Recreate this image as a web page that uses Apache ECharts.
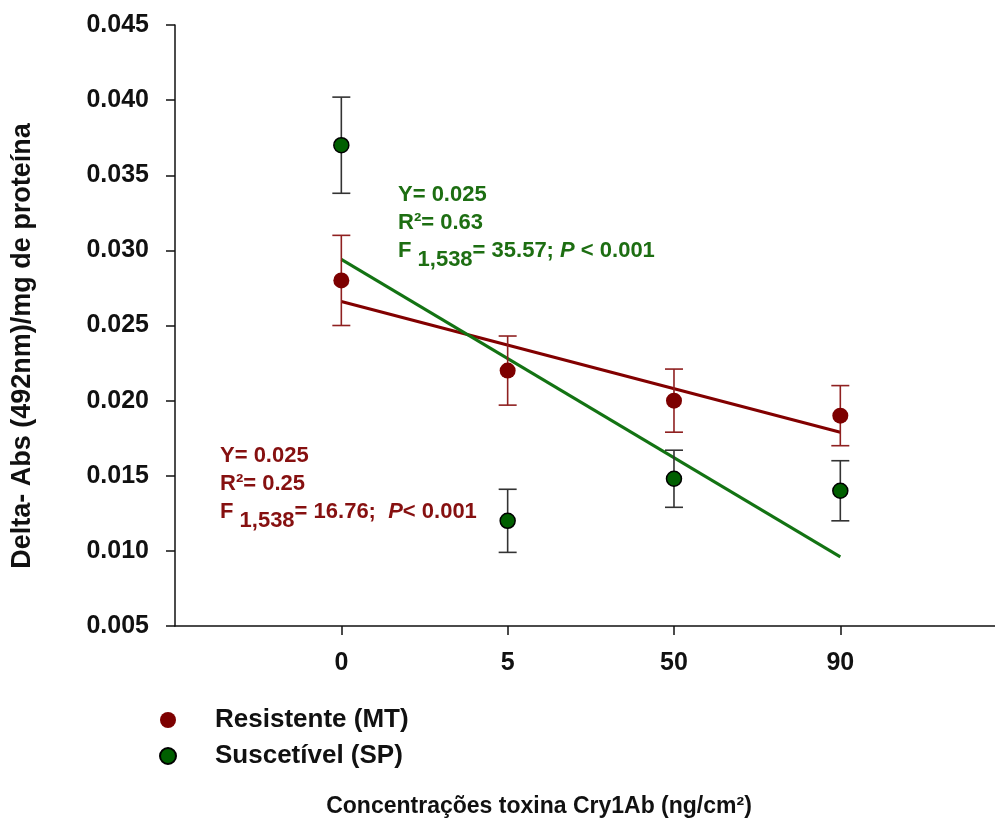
<!DOCTYPE html>
<html>
<head>
<meta charset="utf-8">
<script src="https://cdn.jsdelivr.net/npm/echarts@6/dist/echarts.min.js"></script>
<style>
  html, body { margin: 0; padding: 0; background: #fff; }
  #chart { width: 995px; height: 822px; }
</style>
</head>
<body>
<div id="chart"></div>
<script>
// categorias do eixo x (posições 0..3)
const categories = ['0', '5', '50', '90'];
const resMean = [0.028, 0.022, 0.020, 0.019];
const resErr = [0.0030, 0.0023, 0.0021, 0.0020];
const susMean = [0.037, 0.012, 0.0148, 0.014];
const susErr = [0.0032, 0.0021, 0.0019, 0.0020];
// retas de regressão: valores no início (0) e no fim (90)
const resFit = [0.0266, 0.0179];
const susFit = [0.0294, 0.0096];

const RED = '#7d0000';
const GREEN = '#005f00';
const FONT = 'Liberation Sans, Arial, sans-serif';

const chart = echarts.init(document.getElementById('chart'));

/**
 * barras de erro (custom)
 */
function errorBars(means, errs, color) {
    return {
        type: 'custom',
        silent: true,
        z: 2,
        data: means.map((m, i) => [i, m - errs[i], m + errs[i]]),
        renderItem: (params, api) => {
            const lo = api.coord([api.value(0), api.value(1)]);
            const hi = api.coord([api.value(0), api.value(2)]);
            const w = 9;
            const style = { stroke: color, lineWidth: 1.6 };
            return {
                type: 'group',
                children: [
                    { type: 'line', shape: { x1: lo[0], y1: lo[1], x2: hi[0], y2: hi[1] }, style },
                    { type: 'line', shape: { x1: lo[0] - w, y1: lo[1], x2: lo[0] + w, y2: lo[1] }, style },
                    { type: 'line', shape: { x1: hi[0] - w, y1: hi[1], x2: hi[0] + w, y2: hi[1] }, style }
                ]
            };
        }
    };
}

const txt = { fontFamily: FONT, fontWeight: 'bold', fontSize: 22 };

function statsBlock(color, r2, f, pSep) {
    const base = Object.assign({}, txt, { lineHeight: 28, verticalAlign: 'top', fill: color });
    return {
        fill: color,
        text: '{n|Y= 0.025}\n{n|R²= ' + r2 + '}\n{n|F }{s|1,538}{n|= ' + f + ';' + pSep + '}{i|P}{n|' + (pSep.length > 1 ? '' : ' ') + '< 0.001}',
        rich: {
            n: Object.assign({}, base),
            s: Object.assign({}, base, { padding: [9, 0, 0, 0] }),
            i: Object.assign({}, base, { fontStyle: 'italic' })
        }
    };
}

const option = {
    backgroundColor: '#fff',
    animation: false,
    grid: { left: 175, right: 0, top: 25, bottom: 196 },
    xAxis: {
        type: 'value',
        min: -1,
        max: 3.93,
        interval: 1,
        splitLine: { show: false },
        axisLine: { onZero: false, lineStyle: { color: '#111', width: 1.5 } },
        axisTick: { customValues: [0, 1, 2, 3], length: 9, lineStyle: { color: '#111', width: 1.5 } },
        axisLabel: {
            customValues: [0, 1, 2, 3],
            formatter: v => categories[Math.round(v)] || '',
            margin: 25,
            color: '#111',
            fontFamily: FONT,
            fontWeight: 'bold',
            fontSize: 25
        }
    },
    yAxis: {
        type: 'value',
        min: 0.005,
        max: 0.045,
        interval: 0.005,
        splitLine: { show: false },
        axisLine: { show: true, onZero: false, lineStyle: { color: '#111', width: 1.5 } },
        axisTick: { show: true, length: 9, lineStyle: { color: '#111', width: 1.5 } },
        axisLabel: {
            formatter: v => v.toFixed(3),
            margin: 26,
            color: '#111',
            fontFamily: FONT,
            fontWeight: 'bold',
            fontSize: 25
        }
    },
    legend: {
        orient: 'vertical',
        left: 154,
        top: 702,
        itemWidth: 16,
        itemHeight: 16,
        itemGap: 10,
        selectedMode: false,
        data: [
            { name: 'Resistente (MT)', icon: 'circle' },
            { name: 'Suscetível (SP)', icon: 'circle' }
        ],
        textStyle: { color: '#111', fontFamily: FONT, fontWeight: 'bold', fontSize: 26, padding: [0, 0, 0, 34] }
    },
    series: [
        errorBars(resMean, resErr, '#8f2020'),
        errorBars(susMean, susErr, '#333'),
        {
            name: 'fitRes',
            type: 'line',
            silent: true,
            symbol: 'none',
            z: 1,
            lineStyle: { color: '#820000', width: 3 },
            data: [[0, resFit[0]], [3, resFit[1]]]
        },
        {
            name: 'fitSus',
            type: 'line',
            silent: true,
            symbol: 'none',
            z: 1,
            lineStyle: { color: '#137313', width: 3 },
            data: [[0, susFit[0]], [3, susFit[1]]]
        },
        {
            name: 'Resistente (MT)',
            type: 'scatter',
            symbolSize: 16,
            z: 3,
            itemStyle: { color: RED, opacity: 1 },
            data: resMean.map((m, i) => [i, m])
        },
        {
            name: 'Suscetível (SP)',
            type: 'scatter',
            symbolSize: 15,
            z: 3,
            itemStyle: { color: GREEN, borderColor: '#000', borderWidth: 1.5, opacity: 1 },
            data: susMean.map((m, i) => [i, m])
        }
    ],
    graphic: [
        {
            type: 'text',
            rotation: Math.PI / 2,
            x: 23, y: 346,
            style: {
                text: 'Delta- Abs (492nm)/mg de proteína',
                fill: '#111',
                font: 'bold 27px ' + FONT,
                align: 'center',
                verticalAlign: 'middle'
            }
        },
        {
            type: 'text',
            x: 539,
            y: 807,
            style: {
                text: 'Concentrações toxina Cry1Ab (ng/cm²)',
                fill: '#111',
                font: 'bold 23px ' + FONT,
                align: 'center',
                verticalAlign: 'middle'
            }
        },
        {
            type: 'text',
            x: 398,
            y: 184,
            style: statsBlock('#1d6e12', '0.63', '35.57', ' ')
        },
        {
            type: 'text',
            x: 220,
            y: 445,
            style: statsBlock('#861010', '0.25', '16.76', '  ')
        }
    ]
};

chart.setOption(option);
</script>
</body>
</html>
